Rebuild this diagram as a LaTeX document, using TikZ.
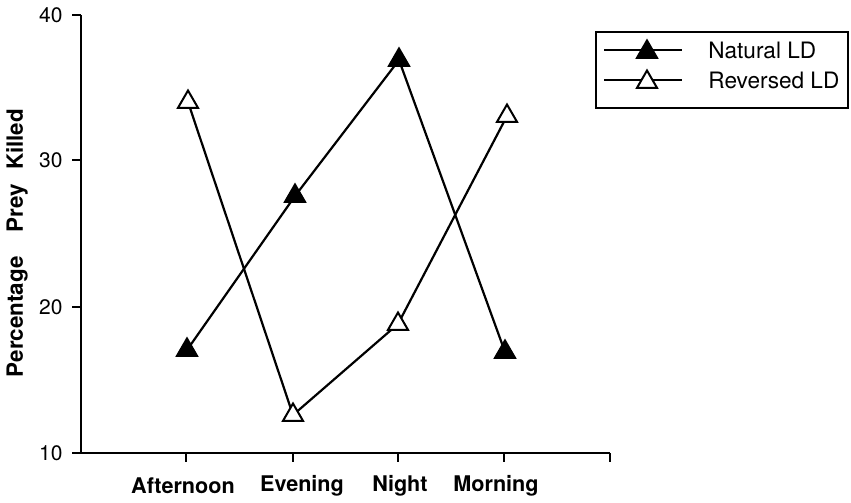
\documentclass[tikz,border=0pt]{standalone}
\usepackage{fontspec}
\setmainfont{TeX Gyre Heros}
\usetikzlibrary{shapes.geometric}
\tikzset{
  solidtri/.style={regular polygon,regular polygon sides=3,fill=black,draw=black,line width=1pt,minimum size=11.5pt,inner sep=0pt},
  opentri/.style={solidtri,fill=white},
  ticklab/.style={font=\fontsize{10.5}{12}\selectfont,anchor=east,inner sep=0pt},
  catlab/.style={font=\bfseries\fontsize{10.8}{12}\selectfont,inner sep=0pt},
  keylab/.style={anchor=west,inner sep=0pt,font=\fontsize{11.3}{13}\selectfont},
  series/.style={line width=1.1pt},
  axisline/.style={line width=1.2pt}
}

\begin{document}
\begin{tikzpicture}[x=0.5pt,y=-0.5pt]
    \useasboundingbox (0,0) rectangle (851,503);

    % — Axes and ticks
    \coordinate (o)    at (81,453);
    \coordinate (ytop) at (81,15);
    \coordinate (xend) at (610,453);
    \draw [axisline] (ytop) -- (o) -- (xend);
    \draw [axisline] (72,15)  -- (81,15);
    \draw [axisline] (72,160) -- (81,160);
    \draw [axisline] (72,307) -- (81,307);
    \draw [axisline] (72,453) -- (81,453);
    \draw [axisline] (186,453) -- (186,462);
    \draw [axisline] (293,453) -- (293,462);
    \draw [axisline] (398,453) -- (398,462);
    \draw [axisline] (504,453) -- (504,462);
    \draw [axisline] (610,453) -- (610,462);

    % — Tick labels
    \node [ticklab] (y40) at (63,15)  {40};
    \node [ticklab] (y30) at (63,160) {30};
    \node [ticklab] (y20) at (63,307) {20};
    \node [ticklab] (y10) at (63,453) {10};

    \node [catlab] (aft)  at (183,486) {Afternoon};
    \node [catlab] (eve)  at (302,486) {Evening};
    \node [catlab] (nig)  at (400,486) {Night};
    \node [catlab] (mor)  at (496,486) {Morning};

    \node [catlab,font=\bfseries\fontsize{11.2}{12}\selectfont,rotate=90] (ylab) at (17,243)
      {Percentage\hspace{12pt}Prey\hspace{7pt}Killed};

    % — Natural LD
    \coordinate (na) at (187,350);
    \coordinate (ne) at (295,196);
    \coordinate (nn) at (399,60);
    \coordinate (nm) at (505,352);
    \draw [series] (na) -- (ne) -- (nn) -- (nm);

    % — Reversed LD
    \coordinate (ra) at (188,102);
    \coordinate (re) at (293,415);
    \coordinate (rn) at (398,324);
    \coordinate (rm) at (507,116);
    \draw [series] (ra) -- (re) -- (rn) -- (rm);

    % — Markers
    \node [solidtri] (mna) at (na) {};
    \node [solidtri] (mne) at (ne) {};
    \node [solidtri] (mnn) at (nn) {};
    \node [solidtri] (mnm) at (nm) {};
    \node [opentri]  (mra) at (ra) {};
    \node [opentri]  (mre) at (re) {};
    \node [opentri]  (mrn) at (rn) {};
    \node [opentri]  (mrm) at (rm) {};

    % — Legend
    \draw [line width=0.9pt] (596,32) rectangle (848,108);
    \coordinate (l1a) at (604,50);
    \coordinate (l1b) at (682,50);
    \coordinate (l2a) at (604,80);
    \coordinate (l2b) at (682,80);
    \draw [series] (l1a) -- (l1b);
    \draw [series] (l2a) -- (l2b);
    \node [solidtri] (key1) at (647,52) {};
    \node [opentri]  (key2) at (647,82) {};
    \node [keylab] (txt1) at (708,50) {Natural LD};
    \node [keylab] (txt2) at (708,80) {Reversed LD};
\end{tikzpicture}
\end{document}
